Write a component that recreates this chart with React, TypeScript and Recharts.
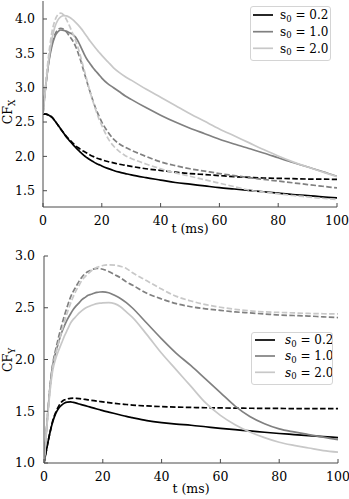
import React from 'react';
import { LineChart, Line, XAxis, YAxis, Legend } from 'recharts';

// time samples (ms)
const T = [0, 1, 2, 3, 4, 5, 6, 7, 8, 9, 10, 11, 12, 13, 14, 15, 16, 17, 18, 19, 20, 22, 24, 26, 28, 30, 35, 40, 45, 50, 55, 60, 65, 70, 75, 80, 85, 90, 95, 100];

// CF_X (top panel)
const CFX_02_SOLID = [2.62, 2.615, 2.6, 2.57, 2.52, 2.46, 2.4, 2.34, 2.28, 2.23, 2.18, 2.135, 2.09, 2.05, 2.01, 1.98, 1.95, 1.925, 1.9, 1.88, 1.86, 1.825, 1.795, 1.77, 1.75, 1.73, 1.69, 1.655, 1.62, 1.595, 1.57, 1.545, 1.525, 1.505, 1.485, 1.465, 1.445, 1.43, 1.41, 1.395];
const CFX_02_DASH = [2.62, 2.615, 2.6, 2.57, 2.52, 2.46, 2.4, 2.345, 2.29, 2.245, 2.2, 2.16, 2.125, 2.095, 2.07, 2.045, 2.02, 2.0, 1.98, 1.965, 1.95, 1.925, 1.905, 1.885, 1.87, 1.855, 1.82, 1.795, 1.77, 1.75, 1.735, 1.72, 1.705, 1.695, 1.685, 1.68, 1.675, 1.67, 1.668, 1.665];
const CFX_10_SOLID = [2.62, 3.05, 3.38, 3.6, 3.74, 3.81, 3.84, 3.835, 3.82, 3.8, 3.78, 3.74, 3.67, 3.58, 3.49, 3.41, 3.35, 3.29, 3.24, 3.19, 3.14, 3.06, 3.0, 2.94, 2.88, 2.83, 2.71, 2.6, 2.5, 2.41, 2.33, 2.25, 2.18, 2.115, 2.05, 1.98, 1.91, 1.845, 1.78, 1.71];
const CFX_10_DASH = [2.62, 3.05, 3.4, 3.63, 3.77, 3.84, 3.865, 3.85, 3.81, 3.75, 3.69, 3.61, 3.5, 3.37, 3.22, 3.08, 2.94, 2.81, 2.69, 2.59, 2.5, 2.36, 2.25, 2.18, 2.13, 2.09, 2.0, 1.92, 1.865, 1.82, 1.785, 1.75, 1.72, 1.69, 1.665, 1.64, 1.615, 1.59, 1.565, 1.54];
const CFX_20_SOLID = [2.62, 3.05, 3.42, 3.7, 3.88, 3.98, 4.03, 4.05, 4.045, 4.025, 3.995, 3.955, 3.91, 3.86, 3.8, 3.74, 3.68, 3.625, 3.57, 3.52, 3.47, 3.38, 3.29, 3.22, 3.16, 3.11, 2.98, 2.86, 2.74, 2.62, 2.51, 2.4, 2.3, 2.2, 2.1, 2.005, 1.92, 1.845, 1.775, 1.705];
const CFX_20_DASH = [2.62, 3.1, 3.5, 3.8, 3.97, 4.06, 4.085, 4.06, 3.99, 3.9, 3.8, 3.7, 3.57, 3.42, 3.26, 3.1, 2.94, 2.8, 2.67, 2.55, 2.45, 2.27, 2.15, 2.07, 2.01, 1.97, 1.89, 1.82, 1.76, 1.71, 1.66, 1.61, 1.56, 1.51, 1.48, 1.455, 1.43, 1.41, 1.39, 1.372];

// CF_Y (bottom panel)
const CFY_02_SOLID = [1.0, 1.15, 1.29, 1.4, 1.48, 1.53, 1.56, 1.58, 1.588, 1.59, 1.585, 1.578, 1.57, 1.562, 1.554, 1.546, 1.538, 1.53, 1.522, 1.514, 1.506, 1.492, 1.478, 1.464, 1.45, 1.438, 1.41, 1.39, 1.375, 1.365, 1.35, 1.335, 1.322, 1.31, 1.297, 1.285, 1.275, 1.265, 1.255, 1.245];
const CFY_02_DASH = [1.0, 1.15, 1.29, 1.41, 1.49, 1.55, 1.59, 1.61, 1.62, 1.625, 1.626, 1.625, 1.622, 1.618, 1.614, 1.61, 1.606, 1.602, 1.598, 1.594, 1.59, 1.583, 1.576, 1.57, 1.565, 1.56, 1.551, 1.545, 1.54, 1.537, 1.534, 1.532, 1.53, 1.529, 1.528, 1.527, 1.526, 1.526, 1.525, 1.525];
const CFY_10_SOLID = [1.0, 1.38, 1.72, 1.95, 2.07, 2.17, 2.26, 2.33, 2.39, 2.44, 2.485, 2.52, 2.55, 2.58, 2.6, 2.62, 2.63, 2.64, 2.648, 2.652, 2.653, 2.645, 2.62, 2.59, 2.55, 2.5, 2.35, 2.2, 2.06, 1.94, 1.81, 1.68, 1.55, 1.45, 1.38, 1.33, 1.3, 1.275, 1.25, 1.225];
const CFY_10_DASH = [1.0, 1.38, 1.72, 1.96, 2.1, 2.22, 2.33, 2.43, 2.52, 2.6, 2.66, 2.71, 2.76, 2.8, 2.83, 2.85, 2.865, 2.875, 2.88, 2.878, 2.872, 2.85, 2.82, 2.79, 2.75, 2.72, 2.64, 2.585, 2.54, 2.51, 2.49, 2.475, 2.46, 2.45, 2.44, 2.43, 2.425, 2.42, 2.412, 2.405];
const CFY_20_SOLID = [1.0, 1.36, 1.68, 1.9, 2.01, 2.09, 2.16, 2.23, 2.29, 2.35, 2.39, 2.42, 2.45, 2.475, 2.495, 2.51, 2.522, 2.532, 2.54, 2.545, 2.548, 2.55, 2.54, 2.51, 2.46, 2.41, 2.24, 2.06, 1.9, 1.74, 1.58, 1.46, 1.37, 1.3, 1.245, 1.2, 1.17, 1.145, 1.12, 1.105];
const CFY_20_DASH = [1.0, 1.37, 1.7, 1.93, 2.06, 2.17, 2.27, 2.37, 2.46, 2.54, 2.61, 2.67, 2.72, 2.77, 2.8, 2.83, 2.855, 2.875, 2.89, 2.9, 2.908, 2.915, 2.912, 2.9, 2.88, 2.84, 2.76, 2.68, 2.61, 2.565, 2.53, 2.505, 2.485, 2.47, 2.46, 2.455, 2.45, 2.445, 2.442, 2.44];

const S0_LABELS = ['0.2', '1.0', '2.0'];
const S0_COLORS = ['#000000', '#808080', '#c8c8c8'];
const X_TICKS = [0, 20, 40, 60, 80, 100];
const CFX_TICKS = [1.5, 2.0, 2.5, 3.0, 3.5, 4.0];
const CFY_TICKS = [1.0, 1.5, 2.0, 2.5, 3.0];

const FONT = 'DejaVu Serif';
const TICK_FS = 12.5;
const AXIS_COLOR = '#4a4a4a';
const DASH = '5.5 2.4';
const LW = 1.7;

function buildRows(series: number[][]) {
  return T.map((t, i) => {
    const r: Record<string, number> = { t };
    series.forEach((s, k) => {
      r['s' + k] = s[i];
    });
    return r;
  });
}

const topRows = buildRows([CFX_02_SOLID, CFX_02_DASH, CFX_10_SOLID, CFX_10_DASH, CFX_20_SOLID, CFX_20_DASH]);
const bottomRows = buildRows([CFY_02_SOLID, CFY_02_DASH, CFY_10_SOLID, CFY_10_DASH, CFY_20_SOLID, CFY_20_DASH]);

type LegendGeom = {
  w: number;
  h: number;
  lx0: number;
  lx1: number;
  tx: number;
  rows: number[];
  italic: boolean;
};

function LegendBox({ g }: { g: LegendGeom }) {
  return (
    <div
      style={{
        width: g.w,
        height: g.h,
        boxSizing: 'border-box',
        border: '1px solid #d4d4d4',
        borderRadius: 3,
        background: 'rgba(255,255,255,0.85)',
      }}
    >
      <svg width={g.w - 2} height={g.h - 2} style={{ display: 'block' }}>
        {S0_LABELS.map((lab, i) => (
          <g key={lab}>
            <line x1={g.lx0} x2={g.lx1} y1={g.rows[i]} y2={g.rows[i]} stroke={S0_COLORS[i]} strokeWidth={LW} />
            <text x={g.tx} y={g.rows[i] + 4.2} style={{ fontFamily: FONT }} fontSize={12} fill="#000">
              <tspan fontStyle={g.italic ? 'italic' : 'normal'}>s</tspan>
              <tspan fontSize={8.5} dy={2.5}>0</tspan>
              <tspan dy={-2.5}>{'\u00a0=\u00a0' + lab}</tspan>
            </text>
          </g>
        ))}
      </svg>
    </div>
  );
}

function yLabel(main: string, sub: string, cy: number) {
  return () => (
    <text x={12} y={cy} transform={`rotate(-90 12 ${cy})`} textAnchor="middle" style={{ fontFamily: FONT }} fontSize={12.5} fill="#000">
      {main}
      <tspan fontSize={9} dy={3}>{sub}</tspan>
    </text>
  );
}

type PanelProps = {
  rows: Record<string, number>[];
  height: number;
  margin: { top: number; right: number; bottom: number; left: number };
  yDomain: [number, number];
  yTicks: number[];
  yWidth: number;
  yTickMargin: number;
  xHeight: number;
  yLab: string;
  yLabCy: number;
  legend: LegendGeom;
  legendPos: { left: number; top: number };
};

function Panel(p: PanelProps) {
  const series = [0, 1, 2, 3, 4, 5];
  return (
    <LineChart width={349} height={p.height} data={p.rows} margin={p.margin}>
      <XAxis
        dataKey="t"
        type="number"
        domain={[0, 100]}
        ticks={X_TICKS}
        interval={0}
        allowDataOverflow
        height={p.xHeight}
        tickSize={-4}
        tickMargin={13}
        axisLine={{ stroke: AXIS_COLOR }}
        tickLine={{ stroke: AXIS_COLOR }}
        tick={{ fill: '#000', fontSize: TICK_FS, fontFamily: FONT }}
        label={{ value: 't (ms)', position: 'bottom', offset: 0, fill: '#000', fontSize: TICK_FS, fontFamily: FONT }}
      />
      <XAxis
        xAxisId="top"
        orientation="top"
        dataKey="t"
        type="number"
        domain={[0, 100]}
        height={0}
        tick={false}
        tickLine={false}
        axisLine={{ stroke: AXIS_COLOR }}
      />
      <YAxis
        type="number"
        domain={p.yDomain}
        ticks={p.yTicks}
        interval={0}
        allowDataOverflow
        width={p.yWidth}
        tickSize={-4}
        tickMargin={p.yTickMargin}
        tickFormatter={(v: number) => v.toFixed(1)}
        axisLine={{ stroke: AXIS_COLOR }}
        tickLine={{ stroke: AXIS_COLOR }}
        tick={{ fill: '#000', fontSize: TICK_FS, fontFamily: FONT }}
        label={yLabel('CF', p.yLab, p.yLabCy)}
      />
      <YAxis
        yAxisId="right"
        orientation="right"
        type="number"
        domain={p.yDomain}
        width={0}
        tick={false}
        tickLine={false}
        axisLine={{ stroke: AXIS_COLOR }}
      />
      <Legend
        layout="vertical"
        align="center"
        verticalAlign="middle"
        wrapperStyle={{ left: p.legendPos.left, top: p.legendPos.top, width: p.legend.w, height: p.legend.h }}
        content={() => <LegendBox g={p.legend} />}
      />
      {series.map((k) => (
        <Line
          key={k}
          dataKey={'s' + k}
          type="monotone"
          stroke={S0_COLORS[Math.floor(k / 2)]}
          strokeWidth={LW}
          strokeDasharray={k % 2 === 1 ? DASH : undefined}
          dot={false}
          activeDot={false}
          isAnimationActive={false}
          legendType="none"
        />
      ))}
    </LineChart>
  );
}

export default function App() {
  return (
    <div style={{ position: 'absolute', left: 0, top: 0, width: 349, height: 499, background: '#fff' }}>
      <div style={{ height: 244 }}>
        <Panel
          rows={topRows}
          height={244}
          margin={{ top: 1, right: 12, bottom: 20, left: 0 }}
          yDomain={[1.263, 4.262]}
          yTicks={CFX_TICKS}
          yWidth={43}
          yTickMargin={12}
          xHeight={17}
          yLab="X"
          yLabCy={112}
          legend={{ w: 81, h: 55, lx0: 2, lx1: 22, tx: 29, rows: [8, 24.7, 41.3], italic: false }}
          legendPos={{ left: 250, top: 6 }}
        />
      </div>
      <div style={{ height: 255 }}>
        <Panel
          rows={bottomRows}
          height={255}
          margin={{ top: 12, right: 11, bottom: 15, left: 0 }}
          yDomain={[1.0, 3.0]}
          yTicks={CFY_TICKS}
          yWidth={44}
          yTickMargin={13}
          xHeight={21}
          yLab="Y"
          yLabCy={116}
          legend={{ w: 82, h: 53, lx0: 3, lx1: 23, tx: 33, rows: [7, 23, 39.3], italic: true }}
          legendPos={{ left: 251, top: 88 }}
        />
      </div>
    </div>
  );
}
